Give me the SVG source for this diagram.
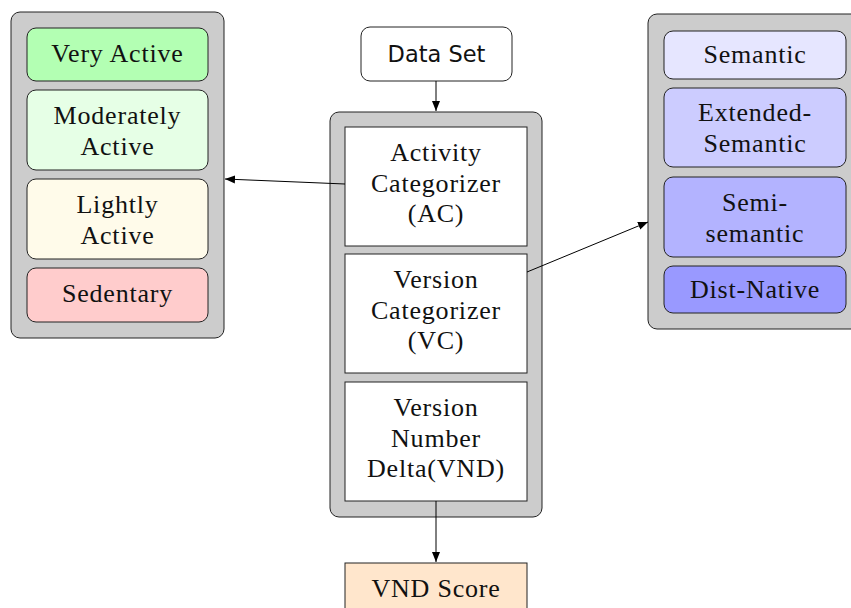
<svg xmlns="http://www.w3.org/2000/svg" width="851" height="608" viewBox="0 0 851 608">
<defs>
<marker id="arr" viewBox="0 0 10 10" refX="10" refY="5" markerWidth="10" markerHeight="10" markerUnits="userSpaceOnUse" orient="auto">
<path d="M0,1 L10,5 L0,9 Z" fill="#000"/>
</marker>
</defs>
<style>
.cont{fill:#cccccc;stroke:#222;stroke-width:1}
.box{stroke:#222;stroke-width:1}
.t{font-family:'Liberation Serif','DejaVu Serif','Times New Roman',serif;font-size:26px;letter-spacing:0.8px;fill:#111;text-anchor:middle}
.s{font-family:'DejaVu Sans',sans-serif;font-size:22.5px;fill:#111;text-anchor:middle}
.c{stroke:#000;stroke-width:1;fill:none;marker-end:url(#arr)}
</style>
<g id="left-group">
<rect class="cont" x="11" y="12" width="213" height="326" rx="9"/>
<g id="very-active"><rect class="box" x="27" y="28" width="181" height="53" rx="9" fill="#b3ffb3"/><text class="t" x="117.5" y="62">Very Active</text></g>
<g id="moderately-active"><rect class="box" x="27" y="90" width="181" height="80" rx="9" fill="#e6ffe6"/><text class="t" x="117.5" y="124">Moderately</text><text class="t" x="117.5" y="155">Active</text></g>
<g id="lightly-active"><rect class="box" x="27" y="179" width="181" height="80" rx="9" fill="#fffbea"/><text class="t" x="117.5" y="213">Lightly</text><text class="t" x="117.5" y="244">Active</text></g>
<g id="sedentary"><rect class="box" x="27" y="268" width="181" height="54" rx="9" fill="#ffcccc"/><text class="t" x="117.5" y="302">Sedentary</text></g>
</g>
<g id="data-set"><rect class="box" x="361" y="27" width="151" height="54" rx="9" fill="#fff"/><text class="s" x="436.5" y="62">Data Set</text></g>
<g id="center-group">
<rect class="cont" x="330" y="112" width="212" height="405" rx="9"/>
<g id="ac"><rect class="box" x="345" y="127" width="182" height="119" fill="#fff"/><text class="t" x="436" y="161">Activity</text><text class="t" x="436" y="192">Categorizer</text><text class="t" x="436" y="222">(AC)</text></g>
<g id="vc"><rect class="box" x="345" y="254" width="182" height="119" fill="#fff"/><text class="t" x="436" y="288">Version</text><text class="t" x="436" y="319">Categorizer</text><text class="t" x="436" y="349">(VC)</text></g>
<g id="vnd"><rect class="box" x="345" y="382" width="182" height="119" fill="#fff"/><text class="t" x="436" y="416">Version</text><text class="t" x="436" y="447">Number</text><text class="t" x="436" y="477">Delta(VND)</text></g>
</g>
<g id="vnd-score"><rect class="box" x="345" y="563" width="182" height="60" fill="#ffe6cc"/><text class="t" x="436" y="597">VND Score</text></g>
<g id="right-group">
<rect class="cont" x="648" y="14" width="215" height="315" rx="9"/>
<g id="semantic"><rect class="box" x="664" y="31" width="182" height="48" rx="9" fill="#e6e6ff"/><text class="t" x="755" y="63">Semantic</text></g>
<g id="extended-semantic"><rect class="box" x="664" y="88" width="182" height="79" rx="9" fill="#ccccff"/><text class="t" x="755" y="121">Extended-</text><text class="t" x="755" y="152">Semantic</text></g>
<g id="semi-semantic"><rect class="box" x="664" y="177" width="182" height="80" rx="9" fill="#b3b3ff"/><text class="t" x="755" y="211">Semi-</text><text class="t" x="755" y="242">semantic</text></g>
<g id="dist-native"><rect class="box" x="664" y="266" width="182" height="47" rx="9" fill="#9999ff"/><text class="t" x="755" y="298">Dist-Native</text></g>
</g>
<g id="connectors">
<line class="c" x1="436" y1="81" x2="436" y2="111"/>
<line class="c" x1="345" y1="184" x2="225" y2="179"/>
<line class="c" x1="527" y1="272" x2="648" y2="222"/>
<line class="c" x1="436" y1="501" x2="436" y2="562"/>
</g>
</svg>
